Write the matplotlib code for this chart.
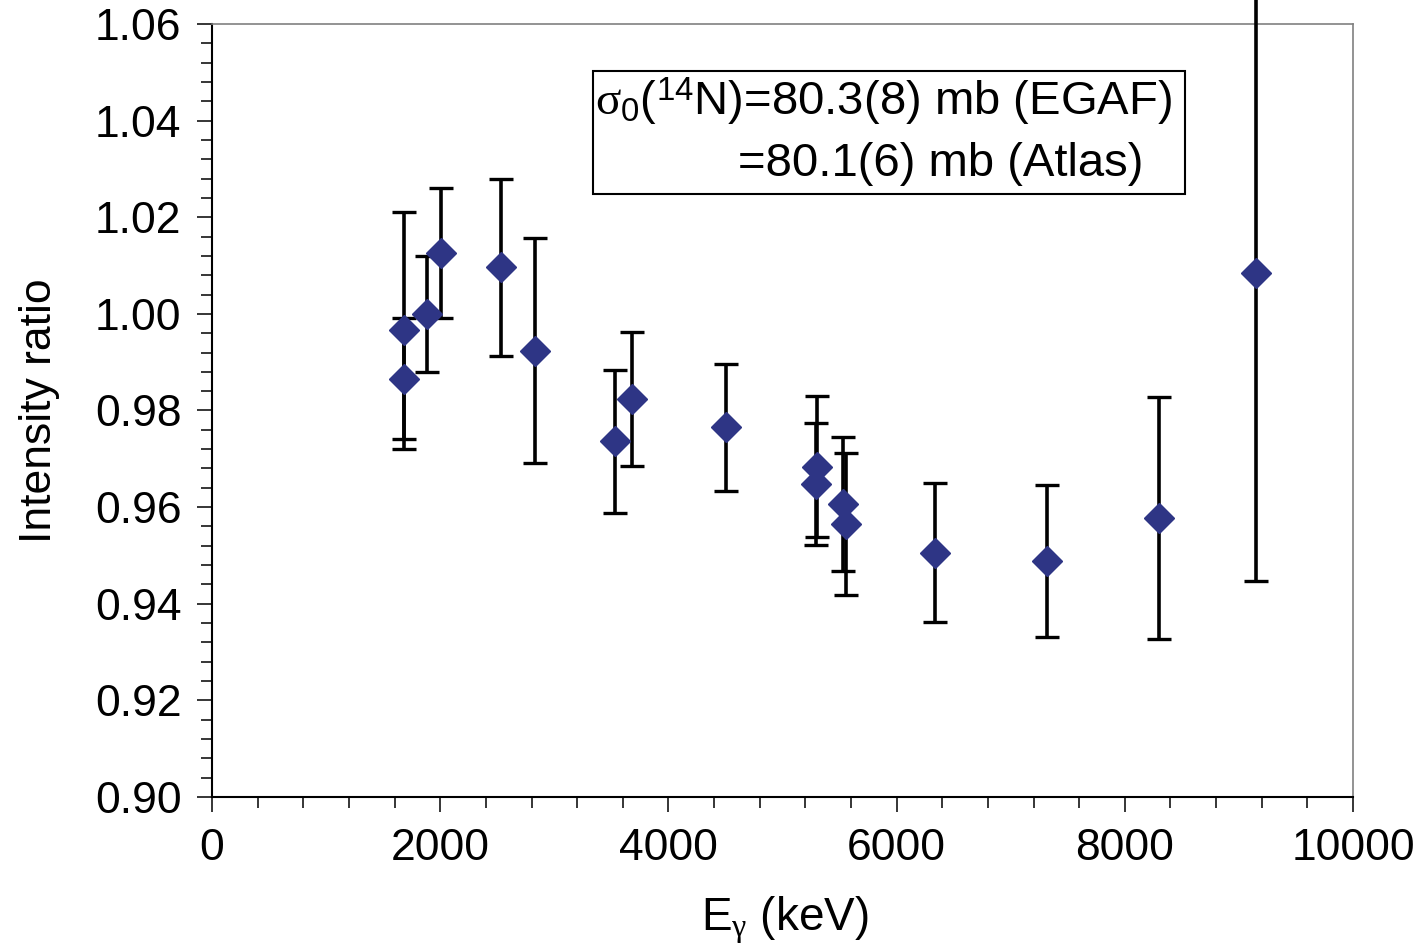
import matplotlib
matplotlib.use("Agg")
import matplotlib.pyplot as plt
from matplotlib.patches import Rectangle
from matplotlib.ticker import MultipleLocator

# Data
energy = [1683, 1683, 1887, 2007, 2530, 2831, 3532, 3684, 4505,
          5305, 5290, 5533, 5557, 6336, 7315, 8302, 9150]
ratio = [0.9966, 0.9866, 1.0000, 1.0126, 1.0096, 0.9924, 0.9736, 0.9824, 0.9765,
         0.9684, 0.9648, 0.9607, 0.9565, 0.9506, 0.9489, 0.9578, 1.0084]
ratio_err = [0.0245, 0.0125, 0.0120, 0.0134, 0.0184, 0.0233, 0.0148, 0.0139, 0.0131,
             0.0145, 0.0126, 0.0139, 0.0146, 0.0144, 0.0157, 0.0250, 0.0636]

plt.rcParams['font.family'] = ['Liberation Sans', 'DejaVu Sans']
plt.rcParams['mathtext.fontset'] = 'custom'
plt.rcParams['mathtext.rm'] = 'Liberation Sans'
plt.rcParams['mathtext.it'] = 'Liberation Serif'
plt.rcParams['mathtext.sf'] = 'Liberation Sans'

fig = plt.figure(figsize=(14.26, 9.44), dpi=100)
ax = fig.add_axes([0.1487, 0.1557, 0.8001, 0.8189])

ax.errorbar(energy, ratio, yerr=ratio_err, fmt='D', color='#2e3585', ms=15,
            ecolor='black', elinewidth=2.6, capsize=8.3, capthick=2.4,
            clip_on=False, zorder=3)

ax.set_xlim(0, 10000)
ax.set_ylim(0.90, 1.06)
ax.xaxis.set_major_locator(MultipleLocator(2000))
ax.xaxis.set_minor_locator(MultipleLocator(400))
ax.yaxis.set_major_locator(MultipleLocator(0.02))
ax.yaxis.set_minor_locator(MultipleLocator(0.004))
ax.yaxis.set_major_formatter(matplotlib.ticker.FormatStrFormatter('%.2f'))

ax.tick_params(which='major', direction='out', length=11, width=1.1,
               labelsize=32, pad=11)
ax.tick_params(which='minor', direction='out', length=8, width=1.1)

for side in ['left', 'bottom']:
    ax.spines[side].set_linewidth(1.5)
for side in ['top', 'right']:
    ax.spines[side].set_color('#808080')
    ax.spines[side].set_linewidth(1.2)

ax.set_xlabel(r'E$_{\gamma}$ (keV)', fontsize=33)
ax.set_ylabel('Intensity ratio', fontsize=32)
ax.xaxis.set_label_coords(0.502, -0.127)
ax.yaxis.set_label_coords(-0.133, 0.5)

# Annotation box
ax.add_patch(Rectangle((0.3339, 0.7798), 0.5189, 0.1593, transform=ax.transAxes,
                       fill=False, edgecolor='black', linewidth=1.5, zorder=4))
ax.text(0.3357, 0.899, r'$\sigma_{0}$($^{14}$N)=80.3(8) mb (EGAF)',
        transform=ax.transAxes, fontsize=34, ha='left', va='center')
ax.text(0.461, 0.8187, '=80.1(6) mb (Atlas)',
        transform=ax.transAxes, fontsize=34, ha='left', va='center')

fig.savefig('out.png', dpi=100)
